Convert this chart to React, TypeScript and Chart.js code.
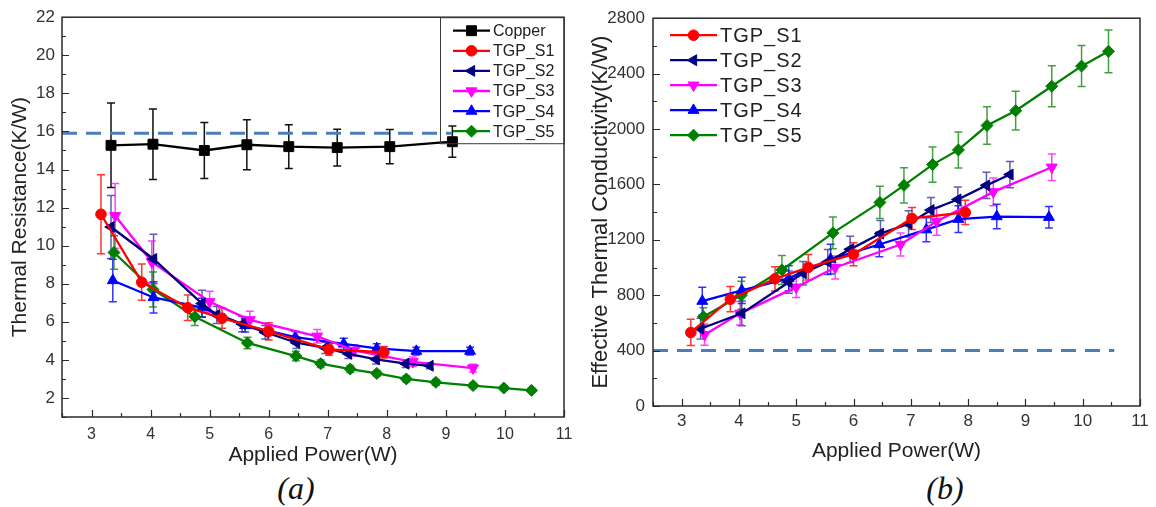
import React, { useEffect, useRef } from 'react';
import { Chart, registerables } from 'chart.js';

Chart.register(...registerables);

const FONT = "'Liberation Sans', Arial, Helvetica, sans-serif";

// ---------------- Data ----------------
const xTickLabels = [3, 4, 5, 6, 7, 8, 9, 10, 11];

const copperPower = [3.33, 4.04, 4.91, 5.63, 6.34, 7.16, 8.05, 9.11];
const copperResistance = [15.27, 15.33, 15.0, 15.3, 15.2, 15.15, 15.2, 15.46];
const copperResistanceErr = [2.22, 1.85, 1.47, 1.31, 1.15, 0.96, 0.9, 0.82];

const s1Power = [3.16, 3.85, 4.63, 5.21, 6.0, 7.02, 7.95];
const s1Resistance = [11.65, 8.08, 6.74, 6.19, 5.5, 4.55, 4.4];
const s1ResistanceErr = [2.07, 0.95, 0.67, 0.53, 0.45, 0.3, 0.3];
const s1Conductivity = [531, 771, 918, 1001, 1096, 1354, 1398];
const s1ConductivityErr = [95, 91, 87, 92, 83, 80, 87];

const s2Power = [3.33, 4.05, 4.87, 5.12, 5.55, 5.94, 6.47, 6.96, 7.35, 7.82, 8.32, 8.73];
const s2Resistance = [10.98, 9.3, 6.96, 6.36, 5.88, 5.45, 4.9, 4.63, 4.32, 4.03, 3.8, 3.69];
const s2ResistanceErr = [1.66, 1.3, 0.7, 0.45, 0.4, 0.35, 0.3, 0.3, 0.25, 0.25, 0.2, 0.15];
const s2Conductivity = [558, 669, 894, 958, 1040, 1131, 1245, 1315, 1415, 1491, 1593, 1671];
const s2ConductivityErr = [75, 90, 80, 85, 90, 95, 95, 95, 90, 90, 95, 95];

const s3Power = [3.4, 4.02, 5.0, 5.68, 6.82, 7.45, 8.44, 9.46];
const s3Resistance = [11.57, 9.15, 7.05, 6.1, 5.24, 4.5, 3.9, 3.57];
const s3ResistanceErr = [1.7, 1.1, 0.55, 0.45, 0.35, 0.3, 0.25, 0.2];
const s3Conductivity = [515, 669, 858, 1000, 1166, 1333, 1546, 1724];
const s3ConductivityErr = [77, 85, 75, 83, 83, 100, 100, 95];

const s4Power = [3.36, 4.05, 4.87, 5.6, 6.45, 7.27, 7.83, 8.5, 9.41];
const s4Resistance = [8.17, 7.28, 6.74, 5.81, 5.19, 4.84, 4.6, 4.46, 4.46];
const s4ResistanceErr = [1.12, 0.82, 0.5, 0.35, 0.3, 0.3, 0.25, 0.2, 0.2];
const s4Conductivity = [757, 835, 922, 1060, 1166, 1273, 1349, 1368, 1363];
const s4ConductivityErr = [101, 95, 90, 107, 89, 87, 97, 89, 77];

const s5Power = [3.38, 4.04, 4.75, 5.64, 6.46, 6.88, 7.38, 7.83, 8.33, 8.83, 9.46, 9.98, 10.45];
const s5Resistance = [9.64, 7.7, 6.27, 4.89, 4.2, 3.8, 3.52, 3.29, 3.0, 2.82, 2.65, 2.52, 2.4];
const s5ResistanceErr = [0.88, 0.92, 0.47, 0.3, 0.25, 0.2, 0.18, 0.15, 0.15, 0.15, 0.12, 0.1, 0.1];
const s5Conductivity = [645, 799, 982, 1250, 1470, 1593, 1743, 1849, 2025, 2132, 2309, 2454, 2561];
const s5ConductivityErr = [64, 101, 104, 114, 116, 128, 127, 130, 136, 140, 148, 148, 154];

// reference (dashed) lines
const refResistance = 15.9;
const refResistancePower = [2.5, 9.1];
const refConductivity = 400;
const refConductivityPower = [2.5, 10.55];

// ---------------- Styling helpers ----------------
type SeriesDef = {
  label: string;
  color: string;
  errColor: string;
  pointStyle: string;
  rotation: number;
  radius: number;
  power: number[];
  values: number[];
  errors: number[];
};

const STYLE = {
  copper: { label: 'Copper', color: '#000000', errColor: '#111111', pointStyle: 'rect', rotation: 0, radius: 7 },
  s1: { label: 'TGP_S1', color: '#ff0000', errColor: 'rgba(255,0,0,0.8)', pointStyle: 'circle', rotation: 0, radius: 5.3 },
  s2: { label: 'TGP_S2', color: '#000080', errColor: 'rgba(40,40,150,0.75)', pointStyle: 'triangle', rotation: -90, radius: 6.3 },
  s3: { label: 'TGP_S3', color: '#ff00ff', errColor: 'rgba(255,0,255,0.75)', pointStyle: 'triangle', rotation: 180, radius: 6.3 },
  s4: { label: 'TGP_S4', color: '#0000ff', errColor: 'rgba(0,0,255,0.8)', pointStyle: 'triangle', rotation: 0, radius: 6.3 },
  s5: { label: 'TGP_S5', color: '#008000', errColor: 'rgba(0,128,0,0.75)', pointStyle: 'rectRot', rotation: 0, radius: 6 },
};

const leftSeries: SeriesDef[] = [
  { ...STYLE.copper, power: copperPower, values: copperResistance, errors: copperResistanceErr },
  { ...STYLE.s1, power: s1Power, values: s1Resistance, errors: s1ResistanceErr },
  { ...STYLE.s2, power: s2Power, values: s2Resistance, errors: s2ResistanceErr },
  { ...STYLE.s3, power: s3Power, values: s3Resistance, errors: s3ResistanceErr },
  { ...STYLE.s4, power: s4Power, values: s4Resistance, errors: s4ResistanceErr },
  { ...STYLE.s5, power: s5Power, values: s5Resistance, errors: s5ResistanceErr },
];

const rightSeries: SeriesDef[] = [
  { ...STYLE.s1, power: s1Power, values: s1Conductivity, errors: s1ConductivityErr },
  { ...STYLE.s2, power: s2Power, values: s2Conductivity, errors: s2ConductivityErr },
  { ...STYLE.s3, power: s3Power, values: s3Conductivity, errors: s3ConductivityErr },
  { ...STYLE.s4, power: s4Power, values: s4Conductivity, errors: s4ConductivityErr },
  { ...STYLE.s5, power: s5Power, values: s5Conductivity, errors: s5ConductivityErr },
];

function drawMarker(ctx: CanvasRenderingContext2D, style: string, rotDeg: number, x: number, y: number, r: number, color: string) {
  ctx.save();
  ctx.fillStyle = color;
  ctx.strokeStyle = color;
  ctx.lineWidth = 1;
  ctx.translate(x, y);
  ctx.rotate((rotDeg * Math.PI) / 180);
  ctx.beginPath();
  if (style === 'rect') {
    const s = r * Math.SQRT1_2;
    ctx.rect(-s, -s, 2 * s, 2 * s);
  } else if (style === 'circle') {
    ctx.arc(0, 0, r, 0, Math.PI * 2);
  } else if (style === 'triangle') {
    let a = 0;
    for (let k = 0; k < 3; k++) {
      const px = Math.sin(a) * r;
      const py = -Math.cos(a) * r;
      if (k === 0) ctx.moveTo(px, py);
      else ctx.lineTo(px, py);
      a += (2 * Math.PI) / 3;
    }
    ctx.closePath();
  } else if (style === 'rectRot') {
    ctx.moveTo(-r, 0);
    ctx.lineTo(0, -r);
    ctx.lineTo(r, 0);
    ctx.lineTo(0, r);
    ctx.closePath();
  }
  ctx.fill();
  ctx.stroke();
  ctx.restore();
}

const isWhole = (v: number, step: number) => Math.abs(v / step - Math.round(v / step)) < 1e-6;

const errorBarPlugin = {
  id: 'errorBars',
  beforeDatasetsDraw(chart: any) {
    const ctx = chart.ctx as CanvasRenderingContext2D;
    const xs = chart.scales.x;
    const ys = chart.scales.y;
    chart.data.datasets.forEach((ds: any) => {
      if (!ds.errors) return;
      ctx.save();
      ctx.strokeStyle = ds.errColor;
      ctx.lineWidth = 1.5;
      ds.data.forEach((pt: any, i: number) => {
        const e = ds.errors[i];
        const x = xs.getPixelForValue(pt.x);
        const y1 = ys.getPixelForValue(pt.y + e);
        const y2 = ys.getPixelForValue(pt.y - e);
        ctx.beginPath();
        ctx.moveTo(x, y1);
        ctx.lineTo(x, y2);
        ctx.moveTo(x - 4, y1);
        ctx.lineTo(x + 4, y1);
        ctx.moveTo(x - 4, y2);
        ctx.lineTo(x + 4, y2);
        ctx.stroke();
      });
      ctx.restore();
    });
  },
};

function makeFramePlugin(yMajor: number) {
  return {
    id: 'frameTicks',
    afterDatasetsDraw(chart: any) {
      const ctx = chart.ctx as CanvasRenderingContext2D;
      const a = chart.chartArea;
      ctx.save();
      ctx.strokeStyle = '#2a2a2a';
      ctx.lineWidth = 1.5;
      ctx.strokeRect(a.left, a.top, a.right - a.left, a.bottom - a.top);
      const xs = chart.scales.x;
      const ys = chart.scales.y;
      ctx.lineWidth = 1.2;
      ctx.beginPath();
      xs.ticks.forEach((t: any) => {
        const px = Math.round(xs.getPixelForValue(t.value)) + 0.5;
        const len = isWhole(t.value, 1) ? 7 : 4;
        ctx.moveTo(px, a.bottom);
        ctx.lineTo(px, a.bottom - len);
      });
      ys.ticks.forEach((t: any) => {
        const py = Math.round(ys.getPixelForValue(t.value)) + 0.5;
        const len = isWhole(t.value, yMajor) ? 7 : 4;
        ctx.moveTo(a.left, py);
        ctx.lineTo(a.left + len, py);
      });
      ctx.stroke();
      ctx.restore();
    },
  };
}

type LegendLayout = {
  boxed: boolean;
  anchor: 'right' | 'left';
  offsetX: number;
  boxWidth: number;
  boxHeight: number;
  firstRow: number;
  rowGap: number;
  lineStart: number;
  lineEnd: number;
  textX: number;
  fontSize: number;
  letterSpacing: string;
};

function makeLegendPlugin(series: SeriesDef[], L: LegendLayout) {
  return {
    id: 'insetLegend',
    afterDraw(chart: any) {
      const ctx = chart.ctx as any;
      const a = chart.chartArea;
      const x0 = L.anchor === 'right' ? a.right - L.boxWidth : a.left + L.offsetX;
      const y0 = a.top;
      ctx.save();
      if (L.boxed) {
        ctx.strokeStyle = '#3a3a3a';
        ctx.lineWidth = 1;
        ctx.strokeRect(x0 + 0.5, y0 + 0.5, L.boxWidth, L.boxHeight);
      }
      series.forEach((s, i) => {
        const y = y0 + L.firstRow + i * L.rowGap;
        ctx.strokeStyle = s.color;
        ctx.lineWidth = 2.3;
        ctx.beginPath();
        ctx.moveTo(x0 + L.lineStart, y);
        ctx.lineTo(x0 + L.lineEnd, y);
        ctx.stroke();
        drawMarker(ctx, s.pointStyle, s.rotation, x0 + (L.lineStart + L.lineEnd) / 2, y, s.radius, s.color);
        ctx.fillStyle = '#222';
        ctx.font = `${L.fontSize}px ${FONT}`;
        ctx.textBaseline = 'middle';
        ctx.textAlign = 'left';
        if ('letterSpacing' in ctx) ctx.letterSpacing = L.letterSpacing;
        ctx.fillText(s.label, x0 + L.textX, y + 1);
        if ('letterSpacing' in ctx) ctx.letterSpacing = '0px';
      });
      ctx.restore();
    },
  };
}

type PanelSpec = {
  width: number;
  height: number;
  padTop: number;
  padRight: number;
  yAxisWidth: number;
  xAxisHeight: number;
  yMin: number;
  yMax: number;
  yStep: number;
  yMajor: number;
  yTitle: string;
  yTitleSize: number;
  yTitlePad: number;
  yTickPad: number;
  yTickSize: number;
  xTickPad: number;
  xTickSize: number;
  xTitlePadBottom: number;
  refValue: number;
  refPower: number[];
  series: SeriesDef[];
  legend: LegendLayout;
  lineWidth: number;
};

function buildConfig(p: PanelSpec): any {
  const datasets: any[] = p.series.map((s) => ({
    label: s.label,
    data: s.power.map((x, i) => ({ x, y: s.values[i] })),
    errors: s.errors,
    errColor: s.errColor,
    borderColor: s.color,
    backgroundColor: s.color,
    borderWidth: p.lineWidth,
    pointStyle: s.pointStyle,
    pointRotation: s.rotation,
    pointRadius: s.radius,
    pointBorderWidth: 1,
    pointBackgroundColor: s.color,
    pointBorderColor: s.color,
    tension: 0,
    fill: false,
    order: 1,
  }));
  datasets.push({
    label: 'reference',
    data: p.refPower.map((x) => ({ x, y: p.refValue })),
    borderColor: '#4a7ebb',
    borderWidth: 3,
    borderDash: [15, 9],
    pointRadius: 0,
    fill: false,
    order: 10,
  });
  return {
    type: 'line',
    data: { datasets },
    options: {
      animation: false,
      responsive: false,
      maintainAspectRatio: false,
      devicePixelRatio: 1,
      layout: { padding: { top: p.padTop, right: p.padRight, bottom: 0, left: 0 } },
      plugins: { legend: { display: false }, tooltip: { enabled: false } },
      scales: {
        x: {
          type: 'linear',
          min: 2.5,
          max: 11,
          afterFit: (s: any) => {
            s.height = p.xAxisHeight;
          },
          grid: { display: false, drawTicks: false },
          border: { display: false },
          ticks: {
            stepSize: 0.5,
            autoSkip: false,
            maxRotation: 0,
            padding: p.xTickPad,
            color: '#333',
            font: { family: FONT, size: p.xTickSize },
            callback: (v: number) => {
              const r = Math.round(v);
              return isWhole(v, 1) && xTickLabels.includes(r) ? String(r) : '';
            },
          },
          title: {
            display: true,
            text: 'Applied Power(W)',
            color: '#222',
            font: { family: FONT, size: 21 },
            padding: { top: 0, bottom: p.xTitlePadBottom },
          },
        },
        y: {
          type: 'linear',
          min: p.yMin,
          max: p.yMax,
          afterFit: (s: any) => {
            s.width = p.yAxisWidth;
          },
          grid: { display: false, drawTicks: false },
          border: { display: false },
          ticks: {
            stepSize: p.yStep,
            autoSkip: false,
            padding: p.yTickPad,
            color: '#333',
            font: { family: FONT, size: p.yTickSize },
            callback: (v: number) => (isWhole(v, p.yMajor) && v > p.yMin - 1e-9 && v !== 1 ? String(Math.round(v)) : ''),
          },
          title: {
            display: true,
            text: p.yTitle,
            color: '#222',
            font: { family: FONT, size: p.yTitleSize },
            padding: { top: p.yTitlePad, bottom: 0 },
          },
        },
      },
    },
    plugins: [errorBarPlugin, makeFramePlugin(p.yMajor), makeLegendPlugin(p.series, p.legend)],
  };
}

const leftSpec: PanelSpec = {
  width: 588,
  height: 470,
  padTop: 11,
  padRight: 24,
  yAxisWidth: 62,
  xAxisHeight: 53,
  yMin: 1,
  yMax: 22,
  yStep: 1,
  yMajor: 2,
  yTitle: 'Thermal Resistance(K/W)',
  yTitleSize: 21,
  yTitlePad: 8,
  yTickPad: 7,
  yTickSize: 17,
  xTickPad: 8,
  xTickSize: 16,
  xTitlePadBottom: 2,
  refValue: refResistance,
  refPower: refResistancePower,
  series: leftSeries,
  lineWidth: 2.3,
  legend: {
    boxed: true,
    anchor: 'right',
    offsetX: 0,
    boxWidth: 124,
    boxHeight: 126,
    firstRow: 13.5,
    rowGap: 20.1,
    lineStart: 13,
    lineEnd: 50,
    textX: 53,
    fontSize: 16,
    letterSpacing: '0px',
  },
};

const rightSpec: PanelSpec = {
  width: 568,
  height: 470,
  padTop: 12,
  padRight: 16,
  yAxisWidth: 65,
  xAxisHeight: 64,
  yMin: 0,
  yMax: 2800,
  yStep: 200,
  yMajor: 400,
  yTitle: 'Effective Thermal Conductivity(K/W)',
  yTitleSize: 22,
  yTitlePad: 0,
  yTickPad: 8,
  yTickSize: 17,
  xTickPad: 5,
  xTickSize: 17,
  xTitlePadBottom: 6,
  refValue: refConductivity,
  refPower: refConductivityPower,
  series: rightSeries,
  lineWidth: 2.3,
  legend: {
    boxed: false,
    anchor: 'left',
    offsetX: 0,
    boxWidth: 160,
    boxHeight: 130,
    firstRow: 17,
    rowGap: 25,
    lineStart: 17,
    lineEnd: 64,
    textX: 67,
    fontSize: 20,
    letterSpacing: '1px',
  },
};

function Panel({ spec, left }: { spec: PanelSpec; left: number }) {
  const ref = useRef<HTMLCanvasElement | null>(null);
  useEffect(() => {
    if (!ref.current) return;
    const chart = new Chart(ref.current, buildConfig(spec));
    return () => chart.destroy();
  }, [spec]);
  return (
    <canvas
      ref={ref}
      width={spec.width}
      height={spec.height}
      style={{ position: 'absolute', left, top: 0, width: spec.width, height: spec.height }}
    />
  );
}

const captionStyle: React.CSSProperties = {
  position: 'absolute',
  top: 470,
  width: 100,
  textAlign: 'center',
  fontFamily: "'Liberation Serif', 'Times New Roman', serif",
  fontStyle: 'italic',
  fontSize: 32,
  lineHeight: '36px',
  color: '#111',
};

export default function App() {
  return (
    <div style={{ position: 'absolute', left: 0, top: 0, width: 1156, height: 507, background: '#fff', overflow: 'hidden' }}>
      <Panel spec={leftSpec} left={0} />
      <Panel spec={rightSpec} left={588} />
      <div style={{ ...captionStyle, left: 246 }}>(a)</div>
      <div style={{ ...captionStyle, left: 895 }}>(b)</div>
    </div>
  );
}
